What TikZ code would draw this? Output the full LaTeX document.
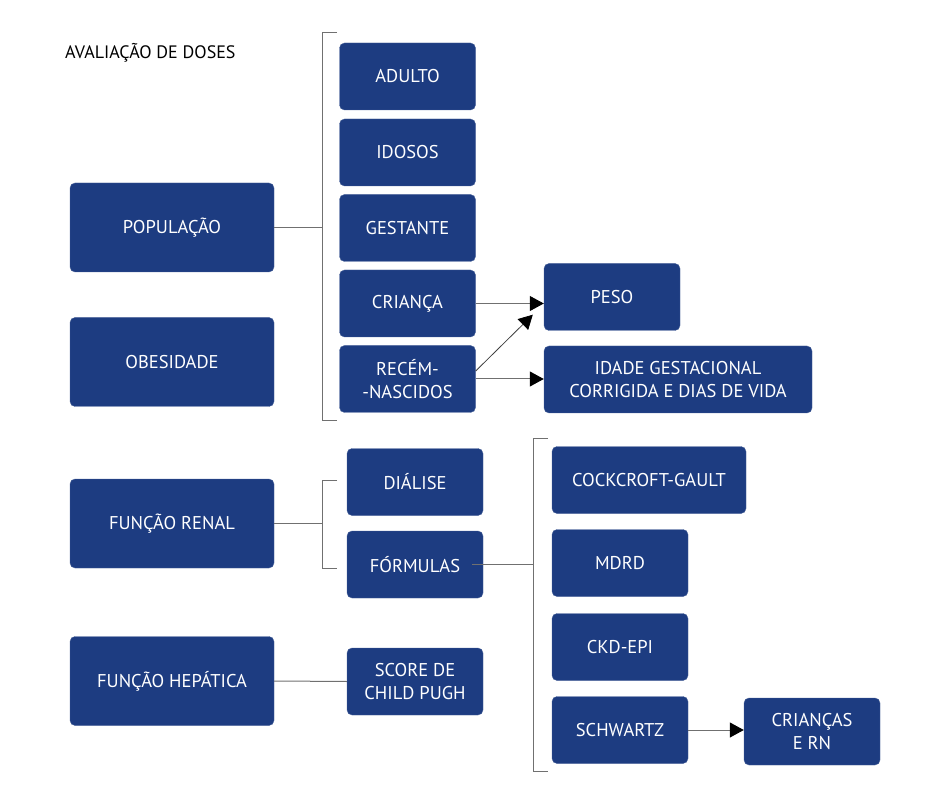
\documentclass[tikz,border=0pt]{standalone}
\usepackage{fontspec}
\setmainfont{PT Sans}
\usetikzlibrary{arrows.meta}

\definecolor{boxblue}{RGB}{29,60,129}
\definecolor{linegray}{RGB}{112,112,112}

\begin{document}
\begin{tikzpicture}[x=1pt,y=-1pt,
    box/.style={draw=boxblue!80!white,fill=boxblue,rounded corners=5pt,
      text=white,align=center,font=\fontsize{18.5}{22.5}\selectfont,
      minimum width=136pt,minimum height=67pt,inner sep=2pt},
    bigbox/.style={box,minimum width=204pt,minimum height=89pt},
    link/.style={draw=linegray,line width=1pt},
    arr/.style={link,-{Triangle[length=14pt,width=15pt,black]}}]
  \useasboundingbox (0,0) rectangle (935,802);
  \node[anchor=west,inner sep=0pt,font=\fontsize{18}{22}\selectfont] (title) at (65,53) {AVALIAÇÃO DE DOSES};
  % left column
  \node[bigbox] (pop) at (172,227.5) {POPULAÇÃO};
  \node[bigbox] (obes) at (172,362) {OBESIDADE};
  \node[bigbox] (renal) at (172,523.5) {FUNÇÃO RENAL};
  \node[bigbox] (hep) at (172,681) {FUNÇÃO HEPÁTICA};
  % population
  \node[box] (adulto) at (407.5,76.5) {ADULTO};
  \node[box] (idosos) at (407.5,152.5) {IDOSOS};
  \node[box] (gestante) at (407.5,228) {GESTANTE};
  \node[box] (crianca) at (407.5,303.5) {CRIANÇA};
  \node[box] (recem) at (407.5,379) {RECÉM-\\-NASCIDOS};
  \node[box] (peso) at (612,297) {PESO};
  \node[box,minimum width=268pt] (idade) at (678,379.5) {IDADE GESTACIONAL\\CORRIGIDA E DIAS DE VIDA};
  % renal
  \node[box] (dialise) at (415,482) {DIÁLISE};
  \node[box] (formulas) at (415,564.5) {FÓRMULAS};
  \node[box,minimum width=194pt] (cockcroft) at (649,480) {COCKCROFT-GAULT};
  \node[box] (mdrd) at (620,563) {MDRD};
  \node[box] (ckd) at (620,647) {CKD-EPI};
  \node[box] (schwartz) at (620,730) {SCHWARTZ};
  \node[box] (criancas) at (812,731.5) {CRIANÇAS\\E RN};
  % hepatic
  \node[box] (score) at (415,681.5) {SCORE DE\\CHILD PUGH};

  % brackets
  \coordinate (popt) at (337,33);
  \coordinate (popb) at (337,421);
  \draw[link] (popt) -- (322,33) -- (322,421) -- (popb);
  \draw[link] (pop.east) -- (322,227.5);
  \coordinate (rent) at (337,480);
  \coordinate (renb) at (337,568);
  \draw[link] (rent) -- (322,480) -- (322,568) -- (renb);
  \draw[link] (renal.east) -- (322,523.5);
  \coordinate (fort) at (548,438);
  \coordinate (forb) at (548,771);
  \draw[link] (fort) -- (533,438) -- (533,771) -- (forb);
  \draw[link] ([xshift=-11pt]formulas.east) -- (533,564.5);
  \draw[link] (hep.east) -- (score.west);

  % arrows
  \draw[arr] (crianca.east) -- (crianca.east -| peso.west);
  \draw[arr,draw=black!75,line width=0.8pt] ([yshift=8pt]recem.east) -- ([xshift=-11pt,yshift=16pt]peso.south west);
  \draw[arr] (recem.east) -- (recem.east -| idade.west);
  \draw[arr] (schwartz.east) -- (schwartz.east -| criancas.west);
\end{tikzpicture}
\end{document}
